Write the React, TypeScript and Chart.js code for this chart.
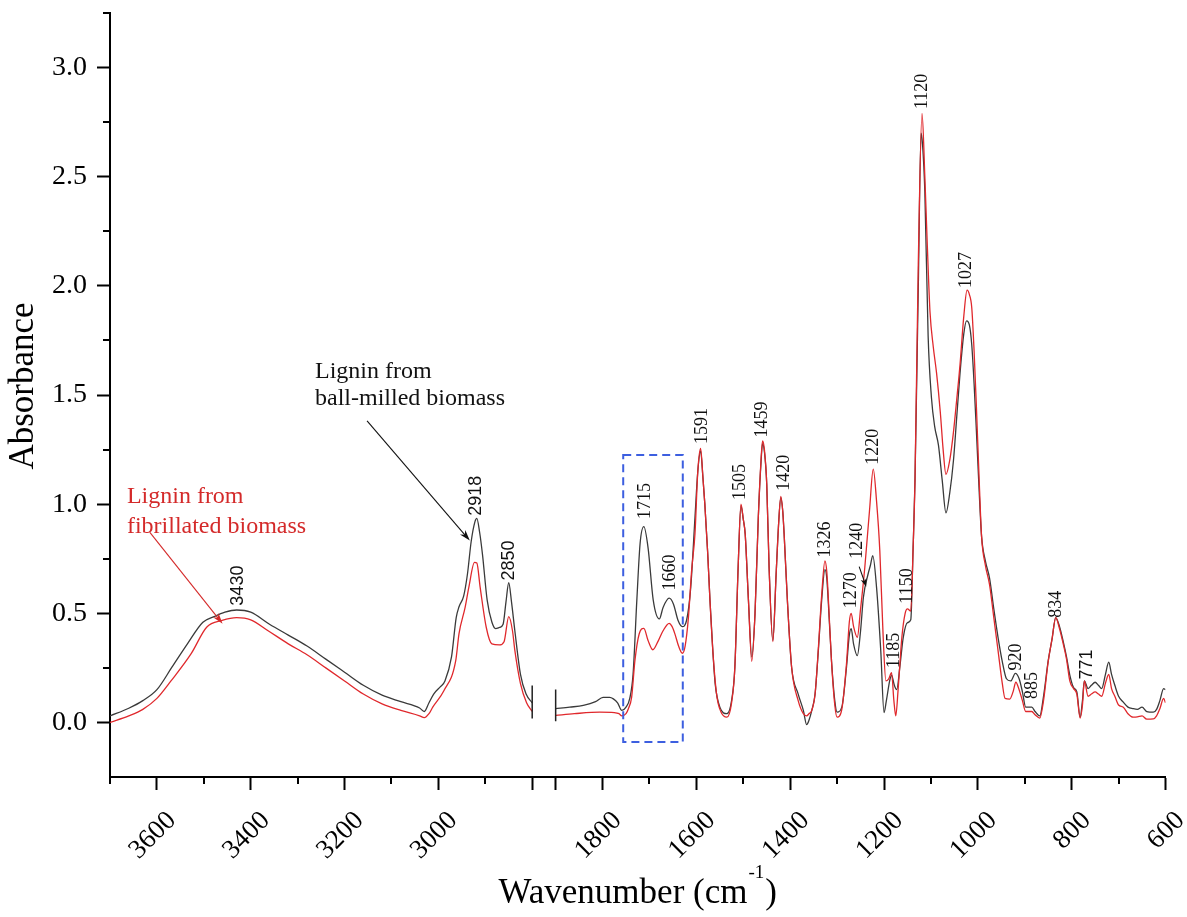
import React, { useEffect, useRef } from "react";
import { Chart, registerables } from "chart.js";

Chart.register(...registerables);

// ---------- broken wavenumber axis ----------
const LEFT_FROM = 3700;
const LEFT_TO = 2800;
const RIGHT_FROM = 1900;
const RIGHT_TO = 600;
const BREAK_GAP = 50;
const LEFT_SPAN = LEFT_FROM - LEFT_TO;

const toAxis = (w: number) =>
  w >= LEFT_TO ? LEFT_FROM - w : LEFT_SPAN + BREAK_GAP + (RIGHT_FROM - w);
const fromAxis = (u: number) =>
  u <= LEFT_SPAN ? LEFT_FROM - u : RIGHT_FROM - (u - LEFT_SPAN - BREAK_GAP);

// ---------- ticks ----------
const xLabeledTicks = [3600, 3400, 3200, 3000, 1800, 1600, 1400, 1200, 1000, 800, 600];
const xBreakTicks = [2800, 1900];
const xMinorTicks = [3700, 3500, 3300, 3100, 2900, 1700, 1500, 1300, 1100, 900, 700];
const yMajorTicks = [0, 0.5, 1.0, 1.5, 2.0, 2.5, 3.0];
const yMinorTicks = [0.25, 0.75, 1.25, 1.75, 2.25, 2.75, 3.25];

// ---------- spectra: ball-milled (black) ----------
const ballLeftWn = [3700, 3660, 3630, 3600, 3568, 3535, 3502, 3478, 3455, 3430, 3400, 3360, 3320, 3280, 3240, 3200, 3160, 3120, 3080, 3040, 3030, 3020, 3010, 2995, 2986, 2972, 2962, 2956, 2946, 2938, 2930, 2922, 2918, 2912, 2906, 2896, 2886, 2878, 2870, 2862, 2856, 2850, 2844, 2837, 2825, 2813, 2800];
const ballLeftAbs = [0.03, 0.065, 0.1, 0.15, 0.253, 0.36, 0.459, 0.485, 0.505, 0.515, 0.505, 0.45, 0.4, 0.35, 0.29, 0.23, 0.17, 0.125, 0.095, 0.066, 0.05, 0.09, 0.13, 0.165, 0.19, 0.3, 0.48, 0.53, 0.58, 0.68, 0.83, 0.92, 0.935, 0.87, 0.77, 0.56, 0.46, 0.43, 0.435, 0.45, 0.55, 0.64, 0.55, 0.42, 0.22, 0.13, 0.09];
const ballRightWn = [1900, 1870, 1841, 1815, 1799, 1785, 1777, 1768, 1759, 1750, 1742, 1735, 1727, 1720, 1712, 1703, 1692, 1679, 1671, 1658, 1649, 1639, 1630, 1621, 1612, 1603, 1597, 1591, 1586, 1582, 1576, 1571, 1565, 1560, 1550, 1535, 1525, 1518, 1511, 1505, 1500, 1496, 1489, 1482, 1475, 1468, 1462, 1459, 1455, 1450, 1445, 1437, 1430, 1425, 1420, 1416, 1413, 1406, 1397, 1383, 1372, 1365, 1360, 1354, 1347, 1340, 1333, 1326, 1322, 1319, 1312, 1305, 1300, 1290, 1280, 1274, 1270, 1265, 1257, 1250, 1244, 1234, 1229, 1224, 1216, 1207, 1200, 1195, 1188, 1184, 1178, 1173, 1166, 1159, 1150, 1143, 1138, 1134, 1127, 1121, 1118, 1113, 1106, 1099, 1092, 1084, 1076, 1068, 1060, 1052, 1045, 1038, 1030, 1024, 1018, 1013, 1008, 1003, 997, 992, 984, 975, 966, 957, 948, 939, 930, 920, 912, 905, 898, 885, 878, 868, 860, 850, 842, 834, 826, 818, 811, 804, 796, 789, 782, 777, 773, 765, 758, 750, 743, 736, 728, 721, 715, 708, 700, 690, 680, 669, 660, 650, 640, 626, 619, 612, 604, 600];
const ballRightAbs = [0.063, 0.07, 0.078, 0.095, 0.115, 0.115, 0.108, 0.09, 0.055, 0.07, 0.11, 0.22, 0.558, 0.82, 0.897, 0.8, 0.56, 0.474, 0.527, 0.569, 0.543, 0.467, 0.439, 0.467, 0.62, 0.94, 1.15, 1.244, 1.12, 1.0, 0.78, 0.558, 0.33, 0.178, 0.07, 0.04, 0.1, 0.253, 0.71, 0.993, 0.93, 0.864, 0.558, 0.3, 0.5, 0.94, 1.2, 1.277, 1.24, 1.09, 0.71, 0.375, 0.68, 0.9, 1.03, 0.97, 0.864, 0.558, 0.253, 0.13, 0.055, -0.01, 0.01, 0.055, 0.13, 0.33, 0.558, 0.7, 0.66, 0.558, 0.284, 0.1, 0.047, 0.07, 0.253, 0.4, 0.43, 0.36, 0.306, 0.42, 0.573, 0.68, 0.72, 0.764, 0.62, 0.33, 0.045, 0.1, 0.19, 0.217, 0.17, 0.15, 0.26, 0.39, 0.457, 0.47, 0.8, 1.11, 1.99, 2.7, 2.65, 2.43, 1.77, 1.49, 1.355, 1.27, 1.11, 0.96, 1.05, 1.2, 1.4, 1.6, 1.78, 1.84, 1.82, 1.73, 1.55, 1.33, 1.05, 0.85, 0.74, 0.66, 0.52, 0.39, 0.28, 0.2, 0.19, 0.225, 0.2, 0.14, 0.07, 0.07, 0.05, 0.03, 0.12, 0.283, 0.38, 0.48, 0.44, 0.37, 0.3, 0.217, 0.16, 0.14, 0.024, 0.1, 0.19, 0.155, 0.17, 0.184, 0.17, 0.155, 0.22, 0.276, 0.22, 0.17, 0.12, 0.093, 0.07, 0.063, 0.06, 0.07, 0.05, 0.047, 0.06, 0.1, 0.155, 0.15];

// ---------- spectra: fibrillated (red) ----------
const fibLeftWn = [3700, 3660, 3630, 3600, 3570, 3527, 3494, 3461, 3430, 3400, 3363, 3320, 3280, 3240, 3200, 3160, 3120, 3080, 3040, 3030, 3020, 3012, 2988, 2963, 2956, 2943, 2935, 2923, 2918, 2911, 2898, 2886, 2870, 2860, 2850, 2842, 2837, 2825, 2812, 2800];
const fibLeftAbs = [0.0, 0.03, 0.06, 0.11, 0.19, 0.315, 0.436, 0.467, 0.48, 0.47, 0.42, 0.36, 0.31, 0.25, 0.19, 0.13, 0.085, 0.055, 0.03, 0.022, 0.04, 0.07, 0.146, 0.283, 0.407, 0.527, 0.62, 0.733, 0.73, 0.62, 0.436, 0.36, 0.355, 0.37, 0.485, 0.42, 0.33, 0.178, 0.09, 0.05];
const fibRightWn = [1900, 1860, 1806, 1775, 1765, 1759, 1750, 1745, 1738, 1731, 1722, 1712, 1703, 1693, 1681, 1671, 1658, 1652, 1646, 1638, 1630, 1624, 1617, 1610, 1603, 1597, 1591, 1586, 1582, 1576, 1571, 1565, 1557, 1548, 1535, 1525, 1518, 1511, 1505, 1500, 1496, 1489, 1482, 1475, 1468, 1462, 1459, 1455, 1450, 1445, 1437, 1430, 1425, 1420, 1416, 1413, 1406, 1397, 1383, 1372, 1365, 1360, 1354, 1347, 1340, 1333, 1326, 1322, 1319, 1312, 1305, 1300, 1290, 1280, 1274, 1270, 1265, 1257, 1250, 1241, 1231, 1223, 1216, 1209, 1202, 1196, 1190, 1184, 1179, 1175, 1170, 1162, 1155, 1150, 1143, 1138, 1134, 1127, 1119, 1113, 1108, 1102, 1095, 1088, 1080, 1074, 1068, 1060, 1052, 1045, 1038, 1030, 1023, 1018, 1013, 1008, 1003, 997, 992, 984, 975, 966, 957, 948, 942, 932, 925, 919, 912, 905, 898, 885, 878, 868, 860, 850, 842, 834, 826, 818, 811, 804, 796, 789, 782, 777, 773, 765, 758, 750, 743, 736, 728, 721, 715, 708, 700, 690, 680, 669, 660, 650, 640, 626, 619, 612, 604, 600];
const fibRightAbs = [0.032, 0.04, 0.047, 0.045, 0.04, 0.03, 0.04, 0.063, 0.116, 0.284, 0.405, 0.431, 0.375, 0.333, 0.375, 0.42, 0.454, 0.44, 0.407, 0.35, 0.317, 0.35, 0.48, 0.7, 0.864, 1.15, 1.255, 1.12, 1.0, 0.78, 0.558, 0.33, 0.13, 0.05, 0.024, 0.09, 0.253, 0.71, 1.0, 0.93, 0.864, 0.558, 0.28, 0.5, 0.94, 1.21, 1.29, 1.25, 1.09, 0.71, 0.37, 0.68, 0.9, 1.035, 0.97, 0.864, 0.558, 0.253, 0.1, 0.04, 0.03, 0.04, 0.055, 0.13, 0.34, 0.58, 0.74, 0.69, 0.58, 0.28, 0.08, 0.024, 0.06, 0.27, 0.46, 0.5, 0.44, 0.39, 0.52, 0.71, 0.97, 1.16, 1.015, 0.787, 0.4, 0.19, 0.2, 0.228, 0.1, 0.03, 0.15, 0.39, 0.5, 0.52, 0.51, 0.8, 1.11, 2.1, 2.79, 2.5, 2.2, 1.88, 1.72, 1.6, 1.42, 1.25, 1.136, 1.2, 1.33, 1.48, 1.64, 1.86, 1.98, 1.96, 1.9, 1.7, 1.44, 1.1, 0.85, 0.72, 0.63, 0.48, 0.33, 0.18, 0.11, 0.107, 0.14, 0.184, 0.15, 0.1, 0.05, 0.05, 0.035, 0.02, 0.1, 0.28, 0.38, 0.48, 0.43, 0.36, 0.29, 0.19, 0.155, 0.13, 0.02, 0.08, 0.19, 0.12, 0.13, 0.14, 0.13, 0.12, 0.18, 0.22, 0.155, 0.12, 0.08, 0.07, 0.04, 0.024, 0.025, 0.03, 0.015, 0.016, 0.03, 0.063, 0.11, 0.09];

// ---------- peak annotations ----------
const peakText = ["3430", "2918", "2850", "1715", "1660", "1591", "1505", "1459", "1420", "1326", "1270", "1240", "1220", "1185", "1150", "1120", "1027", "920", "885", "834", "771"];
const peakLabelWn = [3427, 2919, 2850, 1710, 1656, 1588, 1506, 1459, 1413, 1326, 1270, 1258, 1222, 1179, 1150, 1118, 1024, 919, 883, 832, 768];
const peakLabelAbs = [0.535, 0.947, 0.65, 0.932, 0.604, 1.275, 1.019, 1.305, 1.061, 0.756, 0.523, 0.75, 1.18, 0.249, 0.544, 2.81, 1.99, 0.238, 0.107, 0.48, 0.197];
const sansPeaks = ["3430", "2918", "2850", "771"];

// ---------- notes / arrows / highlight box ----------
const ballNoteLines = ["Lignin from", "ball-milled biomass"];
const ballNoteWn = 3263;
const ballNoteAbs = [1.58, 1.455];
const fibNoteLines = ["Lignin from", "fibrillated biomass"];
const fibNoteWn = 3664;
const fibNoteAbs = [1.005, 0.866];
const ballArrow = { fromWn: 3152, fromAbs: 1.381, toWn: 2933, toAbs: 0.833 };
const fibArrow = { fromWn: 3615, fromAbs: 0.871, toWn: 3460, toAbs: 0.452 };
const peak1240Arrow = { fromWn: 1253, fromAbs: 0.714, toWn: 1238, toAbs: 0.622 };
const boxWn = [1756, 1629];
const boxAbs = [1.225, -0.09];
const breakMarks = [
  { wn: 2800, top: 0.169, bottom: 0.018 },
  { wn: 1900, top: 0.151, bottom: 0.005 },
];

const SERIF = "'Liberation Serif', 'Times New Roman', serif";
const SANS = "'Liberation Sans', Arial, sans-serif";
const BLACK = "#3a3a3a";
const RED = "#e0282c";
const RED_TEXT = "#d42a2a";
const BLUE = "#3d5fe0";

function buildSeries(lw: number[], la: number[], rw: number[], ra: number[]) {
  const pts: { x: number; y: number | null }[] = lw.map((w, i) => ({ x: toAxis(w), y: la[i] }));
  pts.push({ x: LEFT_SPAN + BREAK_GAP / 2, y: null });
  rw.forEach((w, i) => pts.push({ x: toAxis(w), y: ra[i] }));
  return pts;
}

function arrow(ctx: CanvasRenderingContext2D, x1: number, y1: number, x2: number, y2: number, color: string, head = 11, half = 3.5) {
  const ang = Math.atan2(y2 - y1, x2 - x1);
  ctx.save();
  ctx.strokeStyle = color;
  ctx.fillStyle = color;
  ctx.lineWidth = 1.1;
  ctx.beginPath();
  ctx.moveTo(x1, y1);
  ctx.lineTo(x2 - Math.cos(ang) * head * 0.6, y2 - Math.sin(ang) * head * 0.6);
  ctx.stroke();
  ctx.beginPath();
  ctx.moveTo(x2, y2);
  ctx.lineTo(x2 - Math.cos(ang) * head - Math.sin(ang) * half, y2 - Math.sin(ang) * head + Math.cos(ang) * half);
  ctx.lineTo(x2 - Math.cos(ang) * head * 0.7, y2 - Math.sin(ang) * head * 0.7);
  ctx.lineTo(x2 - Math.cos(ang) * head + Math.sin(ang) * half, y2 - Math.sin(ang) * head - Math.cos(ang) * half);
  ctx.closePath();
  ctx.fill();
  ctx.restore();
}

const decorPlugin = {
  id: "decor",
  afterDraw(chart: any) {
    const ctx: CanvasRenderingContext2D = chart.ctx;
    const xs = chart.scales.x;
    const ys = chart.scales.y;
    const area = chart.chartArea;
    const px = (w: number) => xs.getPixelForValue(toAxis(w));
    const py = (v: number) => ys.getPixelForValue(v);

    ctx.save();
    // minor ticks
    ctx.strokeStyle = "#000";
    ctx.lineWidth = 2;
    ctx.beginPath();
    xMinorTicks.forEach((w) => {
      const x = Math.round(px(w));
      ctx.moveTo(x, area.bottom);
      ctx.lineTo(x, area.bottom + 7);
    });
    yMinorTicks.forEach((v) => {
      const y = Math.round(py(v));
      ctx.moveTo(area.left, y);
      ctx.lineTo(area.left - 7, y);
    });
    ctx.stroke();

    // break marks
    ctx.lineWidth = 1.5;
    ctx.strokeStyle = "#222";
    ctx.beginPath();
    breakMarks.forEach((b) => {
      const x = px(b.wn);
      ctx.moveTo(x, py(b.top));
      ctx.lineTo(x, py(b.bottom));
    });
    ctx.stroke();

    // highlight box
    ctx.strokeStyle = BLUE;
    ctx.lineWidth = 2;
    ctx.setLineDash([8, 5]);
    const bx1 = px(boxWn[0]);
    const bx2 = px(boxWn[1]);
    const by1 = py(boxAbs[0]);
    const by2 = py(boxAbs[1]);
    ctx.strokeRect(bx1, by1, bx2 - bx1, by2 - by1);
    ctx.setLineDash([]);

    // peak labels
    ctx.fillStyle = "#111";
    ctx.textAlign = "left";
    ctx.textBaseline = "middle";
    peakText.forEach((t, i) => {
      ctx.save();
      ctx.translate(px(peakLabelWn[i]), py(peakLabelAbs[i]));
      ctx.rotate(-Math.PI / 2);
      ctx.font = `18px ${sansPeaks.includes(t) ? SANS : SERIF}`;
      ctx.fillText(t, 0, 0);
      ctx.restore();
    });

    // notes
    ctx.textBaseline = "alphabetic";
    ctx.font = `24px ${SERIF}`;
    ctx.fillStyle = "#111";
    ballNoteLines.forEach((t, i) => ctx.fillText(t, px(ballNoteWn), py(ballNoteAbs[i])));
    ctx.fillStyle = RED_TEXT;
    fibNoteLines.forEach((t, i) => ctx.fillText(t, px(fibNoteWn), py(fibNoteAbs[i])));

    arrow(ctx, px(ballArrow.fromWn), py(ballArrow.fromAbs), px(ballArrow.toWn), py(ballArrow.toAbs), "#111");
    arrow(ctx, px(fibArrow.fromWn), py(fibArrow.fromAbs), px(fibArrow.toWn), py(fibArrow.toAbs), RED_TEXT);
    arrow(ctx, px(peak1240Arrow.fromWn), py(peak1240Arrow.fromAbs), px(peak1240Arrow.toWn), py(peak1240Arrow.toAbs), "#111", 8, 3);

    // axis titles
    ctx.fillStyle = "#000";
    ctx.save();
    ctx.translate(33, (area.top + area.bottom) / 2 - 9);
    ctx.rotate(-Math.PI / 2);
    ctx.textAlign = "center";
    ctx.font = `35px ${SERIF}`;
    ctx.fillText("Absorbance", 0, 0);
    ctx.restore();

    const main1 = "Wavenumber (cm";
    const sup = "-1";
    const main2 = ")";
    ctx.textAlign = "left";
    ctx.font = `35px ${SERIF}`;
    const w1 = ctx.measureText(main1).width;
    const w3 = ctx.measureText(main2).width;
    ctx.font = `19px ${SERIF}`;
    const w2 = ctx.measureText(sup).width;
    const total = w1 + w2 + w3 + 2;
    let tx = (area.left + area.right) / 2 - total / 2;
    const base = 903;
    ctx.font = `35px ${SERIF}`;
    ctx.fillText(main1, tx, base);
    tx += w1 + 1;
    ctx.font = `19px ${SERIF}`;
    ctx.fillText(sup, tx, base - 25);
    tx += w2 + 1;
    ctx.font = `35px ${SERIF}`;
    ctx.fillText(main2, tx, base);
    ctx.restore();
  },
};

export default function App() {
  const ref = useRef<HTMLCanvasElement>(null);

  useEffect(() => {
    const canvas = ref.current;
    if (!canvas) return;
    const chart = new Chart(canvas, {
      type: "line",
      data: {
        datasets: [
          {
            label: "Lignin from fibrillated biomass",
            data: buildSeries(fibLeftWn, fibLeftAbs, fibRightWn, fibRightAbs),
            borderColor: RED,
            borderWidth: 1.3,
            pointRadius: 0,
            cubicInterpolationMode: "monotone",
            spanGaps: false,
          },
          {
            label: "Lignin from ball-milled biomass",
            data: buildSeries(ballLeftWn, ballLeftAbs, ballRightWn, ballRightAbs),
            borderColor: BLACK,
            borderWidth: 1.3,
            pointRadius: 0,
            cubicInterpolationMode: "monotone",
            spanGaps: false,
          },
        ],
      },
      options: {
        animation: false,
        responsive: false,
        devicePixelRatio: 1,
        events: [],
        layout: { padding: { top: 13, right: 21.5, bottom: 0, left: 0 } },
        plugins: { legend: { display: false }, tooltip: { enabled: false }, title: { display: false } },
        scales: {
          x: {
            type: "linear",
            min: 0,
            max: toAxis(RIGHT_TO),
            afterBuildTicks: (scale: any) => {
              scale.ticks = [...xLabeledTicks, ...xBreakTicks]
                .sort((a, b) => b - a)
                .map((w) => ({ value: toAxis(w) }));
            },
            afterFit: (scale: any) => {
              scale.height = 140;
              scale.paddingLeft = 0;
              scale.paddingRight = 0;
            },
            ticks: {
              autoSkip: false,
              minRotation: 45,
              maxRotation: 45,
              padding: 15,
              labelOffset: 15,
              color: "#000",
              font: { family: SERIF, size: 27 },
              callback: (value: any) => {
                const w = Math.round(fromAxis(Number(value)));
                return xLabeledTicks.includes(w) ? String(w) : "";
              },
            },
            grid: {
              display: true,
              drawOnChartArea: false,
              drawTicks: true,
              tickLength: 13,
              tickWidth: 2,
              tickColor: "#000",
            },
            border: { display: true, color: "#000", width: 2 },
            title: { display: false },
          },
          y: {
            type: "linear",
            min: -0.25,
            max: 3.25,
            afterBuildTicks: (scale: any) => {
              scale.ticks = yMajorTicks.map((v) => ({ value: v }));
            },
            afterFit: (scale: any) => {
              scale.width = 110;
              scale.paddingTop = 0;
              scale.paddingBottom = 0;
            },
            ticks: {
              padding: 10,
              color: "#000",
              font: { family: SERIF, size: 28 },
              callback: (value: any) => Number(value).toFixed(1),
            },
            grid: {
              display: true,
              drawOnChartArea: false,
              drawTicks: true,
              tickLength: 13,
              tickWidth: 2,
              tickColor: "#000",
            },
            border: { display: true, color: "#000", width: 2 },
            title: { display: false },
          },
        },
      },
      plugins: [decorPlugin],
    } as any);
    return () => chart.destroy();
  }, []);

  return (
    <div style={{ position: "absolute", left: 0, top: 0, width: 1187, height: 917, background: "#fff" }}>
      <canvas ref={ref} width={1187} height={917} style={{ display: "block", width: 1187, height: 917 }} />
    </div>
  );
}
